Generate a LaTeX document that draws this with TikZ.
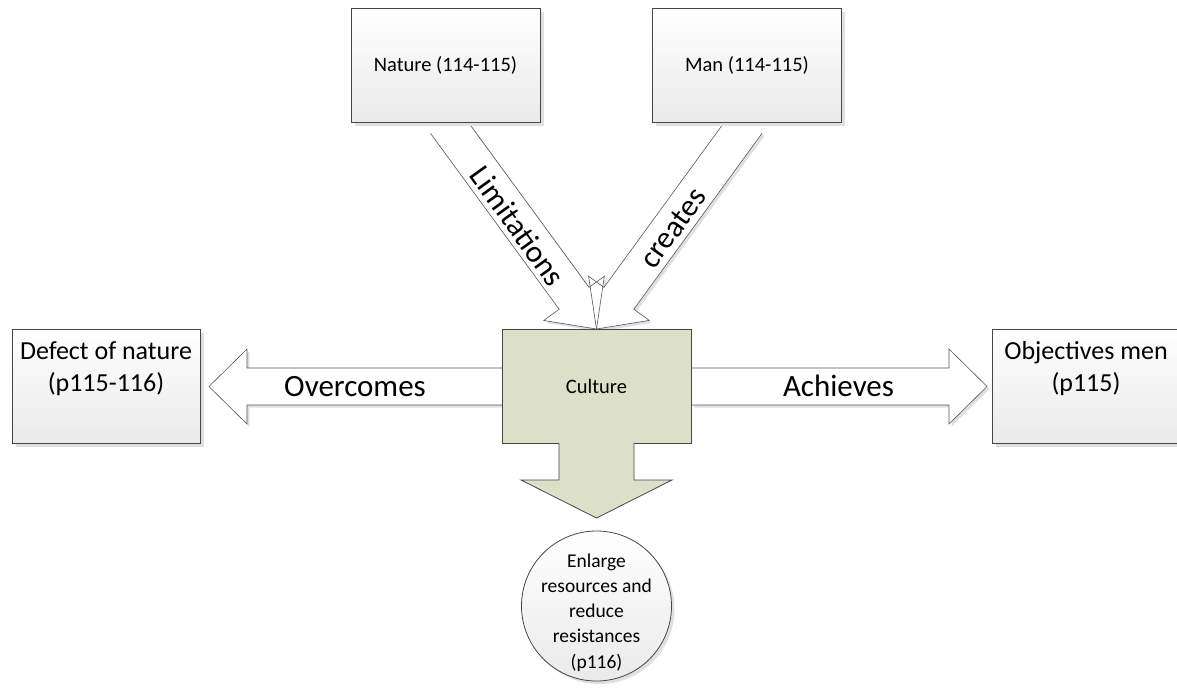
\documentclass[tikz,border=0pt]{standalone}
\usepackage{fontspec}
\setmainfont{Carlito}
\usetikzlibrary{calc,shadows,backgrounds}
\definecolor{linec}{RGB}{70,70,70}
\definecolor{arrowc}{RGB}{85,85,85}
\definecolor{culturec}{RGB}{221,224,201}
\definecolor{shadowc}{RGB}{224,224,224}
\definecolor{boxbot}{RGB}{234,234,234}
\tikzset{
  box/.style={draw=linec, line width=0.8pt, top color=white, bottom color=boxbot,
    minimum width=189pt, minimum height=114pt, inner sep=0pt, outer sep=0pt,
    drop shadow={shadow xshift=3.5pt, shadow yshift=-3.5pt, fill=shadowc, opacity=1},
    font=\fontsize{20.5}{25}\selectfont},
  culturebox/.style={draw=linec, line width=0.8pt, fill=culturec,
    minimum width=189pt, minimum height=114pt, inner sep=0pt, outer sep=0pt,
    font=\fontsize{20.5}{25}\selectfont},
  circbox/.style={circle, draw=linec, line width=0.8pt, top color=white, bottom color=boxbot,
    minimum size=150pt, inner sep=0pt, outer sep=0pt,
    drop shadow={shadow xshift=3pt, shadow yshift=-3pt, fill=shadowc, opacity=1}},
  bigtxt/.style={inner sep=0pt, align=center, font=\fontsize{26}{32}\selectfont},
  circtxt/.style={inner sep=0pt, align=center, font=\fontsize{19.5}{25.25}\selectfont},
  lbl/.style={inner sep=0pt, font=\fontsize{31}{37}\selectfont},
  arrowline/.style={draw=arrowc, line width=0.6pt, line join=miter},
}
% define the corner coordinates of a block arrow: #1 name, #2 from, #3 to
\newcommand{\defarrow}[3]{%
  \coordinate (#1-tip) at (#3);
  \coordinate (#1-hb) at ($(#3)!38pt!(#2)$);
  \coordinate (#1-t1) at ($(#2)!18.5pt!90:(#3)$);
  \coordinate (#1-t2) at ($(#2)!18.5pt!-90:(#3)$);
  \coordinate (#1-s1) at ($(#1-hb)!18.5pt!90:(#3)$);
  \coordinate (#1-s2) at ($(#1-hb)!18.5pt!-90:(#3)$);
  \coordinate (#1-h1) at ($(#1-hb)!37.5pt!90:(#3)$);
  \coordinate (#1-h2) at ($(#1-hb)!37.5pt!-90:(#3)$);
}
\newcommand{\arrowshape}[2]{%
  \path[#2] (#1-t1) -- (#1-s1) -- (#1-h1) -- (#1-tip) -- (#1-h2) -- (#1-s2) -- (#1-t2);
}
\begin{document}
\begin{tikzpicture}[x=1pt,y=-1pt]
\path[use as bounding box] (0,0) rectangle (1177,689);
\clip (0,0) rectangle (1177,689);

% nodes
\node[box] (nature) at (445.5,65.5) {Nature (114-115)};
\node[box] (man) at (747,65.5) {Man (114-115)};
\node[box, minimum width=188pt] (defect) at (106,386) {};
\node[box, minimum width=188pt] (obj) at (1086,386) {};
\node[culturebox] (culture) at (596.5,386) {Culture};
\node[circbox] (res) at (596.5,606) {};

\node[bigtxt, anchor=north] (defecttxt) at (106,336.6) {\strut Defect of nature\\(p115-116)};
\node[bigtxt, anchor=north] (objtxt) at (1086,336.6) {\strut Objectives men\\(p115)};
\node[circtxt, anchor=north] (restxt) at (596.5,549.3) {\strut Enlarge\\resources and\\reduce\\resistances\\(p116)};

% connectors (block arrows) behind the boxes
\coordinate (ltip) at ($(defect.east)+(9,0.5)$);
\coordinate (rtip) at ($(obj.west)+(-5,0.5)$);
\coordinate (lstart) at ($(culture.west)+(0,0.5)$);
\coordinate (rstart) at ($(culture.east)+(0,0.5)$);
\defarrow{ov}{lstart}{ltip}
\defarrow{ac}{rstart}{rtip}
\defarrow{li}{nature.south}{culture.north}
\defarrow{cr}{man.south}{culture.north}
\begin{scope}[on background layer]
  \begin{scope}[transform canvas={shift={(2.5pt,-2.5pt)}}]
    \arrowshape{ov}{fill=shadowc}
    \arrowshape{ac}{fill=shadowc}
    \arrowshape{li}{fill=shadowc}
    \arrowshape{cr}{fill=shadowc}
  \end{scope}
  \arrowshape{ov}{fill=white}
  \arrowshape{ac}{fill=white}
  \arrowshape{li}{fill=white}
  \arrowshape{cr}{fill=white}
  \arrowshape{ov}{arrowline}
  \arrowshape{ac}{arrowline}
  \arrowshape{li}{arrowline}
  \arrowshape{cr}{arrowline}
\end{scope}

% downward arrow out of the culture box
\coordinate (dtip) at (596.5,518);
\fill[culturec] ($(culture.south)+(-37.5,-3)$) -- ($(culture.south)+(-37.5,37)$)
  -- ($(culture.south)+(-75.5,37)$) -- (dtip) -- ($(culture.south)+(75.5,37)$)
  -- ($(culture.south)+(37.5,37)$) -- ($(culture.south)+(37.5,-3)$) -- cycle;
\draw[draw=linec, line width=0.8pt, line join=miter] ($(culture.south)+(-37.5,0)$) -- ($(culture.south)+(-37.5,37)$)
  -- ($(culture.south)+(-75.5,37)$) -- (dtip) -- ($(culture.south)+(75.5,37)$)
  -- ($(culture.south)+(37.5,37)$) -- ($(culture.south)+(37.5,0)$);

% labels
\node[lbl, anchor=base] (overcomes) at (355,396.5) {Overcomes};
\node[lbl, anchor=base] (achieves) at (838.5,396.5) {Achieves};
\node[lbl, rotate=-54.3] (limitations) at (518,226) {Limitations};
\node[lbl, rotate=54.2] (creates) at (673,228) {creates};
\end{tikzpicture}
\end{document}
